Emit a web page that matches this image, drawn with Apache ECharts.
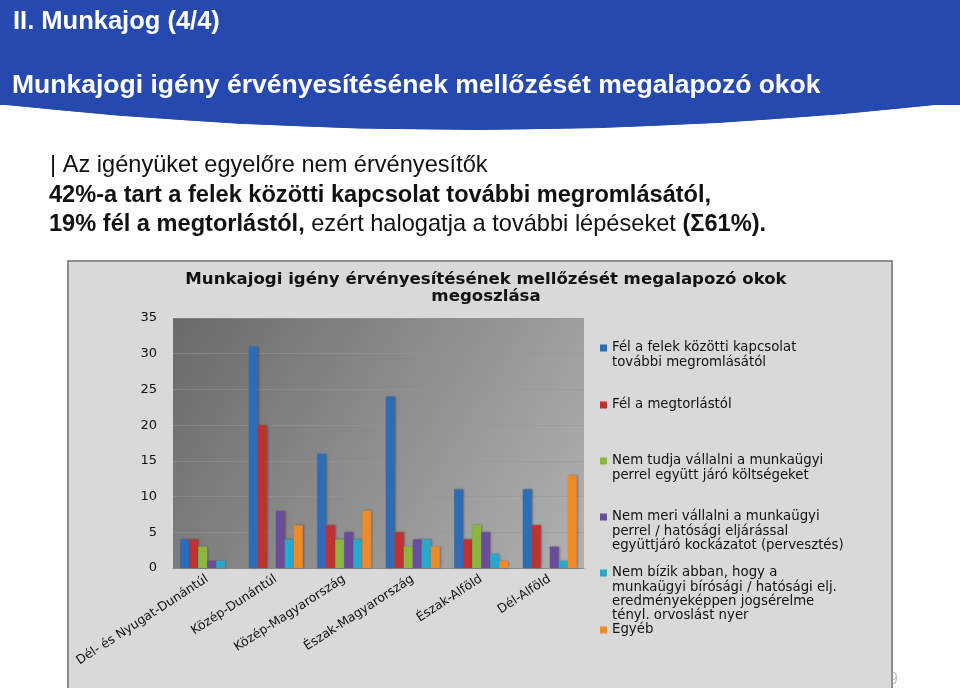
<!DOCTYPE html>
<html>
<head>
<meta charset="utf-8">
<script src="https://cdn.jsdelivr.net/npm/echarts@6/dist/echarts.min.js"></script>
<style>
html,body{margin:0;padding:0;background:#fff;}
#c{width:960px;height:688px;}
</style>
</head>
<body>
<div id="c"></div>
<script>
const categories = ['Dél- és Nyugat-Dunántúl', 'Közép-Dunántúl', 'Közép-Magyarország', 'Észak-Magyarország', 'Észak-Alföld', 'Dél-Alföld'];
const seriesNames = [
  'Fél a felek közötti kapcsolat\ntovábbi megromlásától',
  'Fél a megtorlástól',
  'Nem tudja vállalni a munkaügyi\nperrel együtt járó költségeket',
  'Nem meri vállalni a munkaügyi\nperrel / hatósági eljárással\negyüttjáró kockázatot (pervesztés)',
  'Nem bízik abban, hogy a\nmunkaügyi bírósági / hatósági elj.\neredményeképpen jogsérelme\ntényl. orvoslást nyer',
  'Egyéb'
];
const kapcsolat = [4, 31, 16, 24, 11, 11];
const megtorlas = [4, 20, 6, 5, 4, 6];
const koltseg = [3, 0, 4, 3, 6, 0];
const kockazat = [1, 8, 5, 4, 5, 3];
const bizalom = [1, 4, 4, 4, 2, 1];
const egyeb = [0, 6, 8, 3, 1, 13];
const yTicks = [0, 5, 10, 15, 20, 25, 30, 35];

const seriesData = [kapcsolat, megtorlas, koltseg, kockazat, bizalom, egyeb];
const colors = ['#2e6db5', '#c0312f', '#8cb73e', '#6b4c9a', '#2aa8c9', '#f08a26'];
const legendCenters = [348, 405, 461, 517, 573, 630];
const LH = 14.2;
const chartFont = 'DejaVu Sans';
const sans = '"Liberation Sans", Arial, sans-serif';

const chart = echarts.init(document.getElementById('c'));

const legends = seriesNames.map((name, i) => {
  const n = name.split('\n').length;
  return {
    left: 600,
    top: legendCenters[i] - (2 * n - 1) * LH / 2,
    padding: 0,
    orient: 'vertical',
    icon: 'rect',
    itemWidth: 7,
    itemHeight: 7,
    selectedMode: false,
    data: [name],
    formatter: function (nm) { return '\n'.repeat(n - 1) + nm; },
    textStyle: { fontFamily: chartFont, fontSize: 13.3, color: '#111', lineHeight: LH }
  };
});

const option = {
  animation: false,
  color: colors,
  title: {
    text: 'Munkajogi igény érvényesítésének mellőzését megalapozó okok\nmegoszlása',
    left: 481,
    top: 266,
    textAlign: 'center',
    textStyle: { fontFamily: chartFont, fontWeight: 'bold', fontSize: 16.6, color: '#111', lineHeight: 17 }
  },
  legend: legends,
  graphic: [
    { type: 'rect', z: -10, shape: { x: 68, y: 261, width: 824, height: 440 },
      style: { fill: '#d9d9d9', stroke: '#8e8e8e', lineWidth: 2 } },
    { type: 'text', z: -20, x: 889, y: 672, style: { text: '9', fontSize: 16, fill: '#c0c0c0', fontFamily: 'Liberation Sans' } },
    { type: 'rect', z: -5, shape: { x: 0, y: 0, width: 960, height: 105 }, style: { fill: '#2549ae' } },
    { type: 'bezierCurve', z: -5, shape: { x1: 0, y1: 104, x2: 960, y2: 102, cpx1: 480, cpy1: 156 }, style: { fill: '#2549ae', stroke: '#2549ae', lineWidth: 1 } },
    { type: 'text', z: 1, x: 13, y: 9, style: { text: 'II. Munkajog (4/4)', fill: '#fff', font: 'bold 25.5px ' + sans } },
    { type: 'text', z: 1, x: 12, y: 72, style: { text: 'Munkajogi igény érvényesítésének mellőzését megalapozó okok', fill: '#fff', font: 'bold 26.5px ' + sans } },
    { type: 'text', z: 1, x: 50, y: 153, style: { text: '| Az igényüket egyelőre nem érvényesítők', fill: '#111', font: '23.6px ' + sans } },
    { type: 'text', z: 1, x: 49, y: 183, style: { text: '42%-a tart a felek közötti kapcsolat további megromlásától,', fill: '#111', font: 'bold 23.6px ' + sans } },
    { type: 'text', z: 1, x: 49, y: 212, style: {
        text: '{b|19% fél a megtorlástól,} ezért halogatja a további lépéseket {b|(Σ61%).}',
        fill: '#111', font: '23.6px ' + sans,
        rich: { b: { fontWeight: 'bold', fontSize: 23.6, fontFamily: sans, fill: '#111' } } } }
  ],
  grid: {
    left: 173, right: 376, top: 318, bottom: 120,
    show: true,
    borderWidth: 0,
    backgroundColor: new echarts.graphic.LinearGradient(0, 0, 1, 1, [
      { offset: 0, color: '#6a6a6a' },
      { offset: 1, color: '#b2b2b2' }
    ])
  },
  xAxis: {
    type: 'category',
    data: categories,
    axisTick: { show: false },
    axisLine: { lineStyle: { color: '#8a8a8a', width: 1 } },
    axisLabel: { rotate: 33, interval: 0, fontFamily: chartFont, fontSize: 12.5, color: '#111', margin: 10 }
  },
  yAxis: {
    type: 'value',
    min: yTicks[0],
    max: yTicks[yTicks.length - 1],
    interval: yTicks[1] - yTicks[0],
    axisLine: { show: false },
    axisTick: { show: false },
    splitLine: { lineStyle: { color: 'rgba(150,150,150,0.5)', width: 1 } },
    axisLabel: { fontFamily: chartFont, fontSize: 13, color: '#111', margin: 16 }
  },
  series: seriesNames.map((name, i) => ({
    name: name,
    type: 'bar',
    data: seriesData[i],
    barWidth: 9,
    barGap: '0%',
    itemStyle: { color: colors[i], shadowBlur: 2, shadowColor: 'rgba(0,0,0,0.3)', shadowOffsetX: 1 }
  }))
};
chart.setOption(option);
</script>
</body>
</html>
